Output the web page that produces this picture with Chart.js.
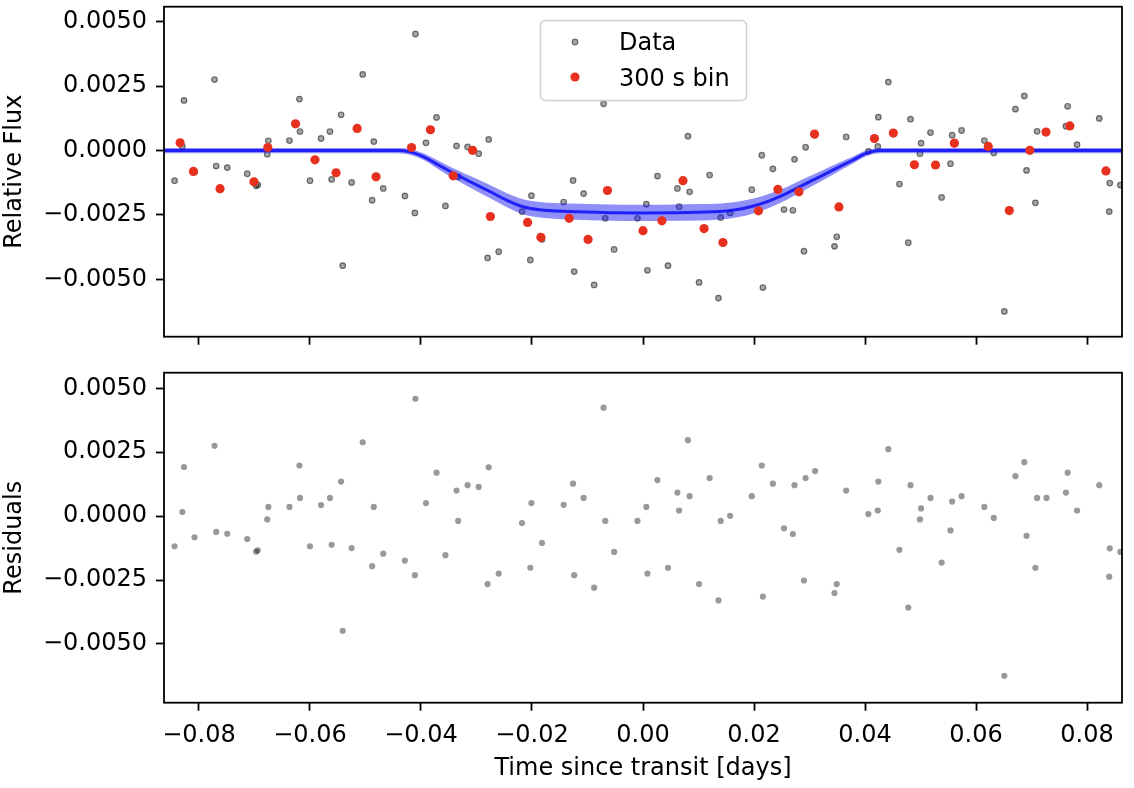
<!DOCTYPE html>
<html>
<head>
<meta charset="utf-8">
<script src="https://cdn.jsdelivr.net/npm/chart.js@4.4.1/dist/chart.umd.min.js"></script>
<style>
    html, body { margin: 0; padding: 0; background: #fff; }
    #wrap { position: relative; width: 1134px; height: 788px; overflow: hidden; }
    canvas { position: absolute; left: 0; }
</style>
</head>
<body>
<div id="wrap">
    <canvas id="fluxChart" width="1134" height="360" style="top:0px"></canvas>
    <canvas id="residChart" width="1134" height="428" style="top:360px"></canvas>
</div>
<script>
// Individual observations: time since transit [days], relative flux, residuals
const time = [
    -0.0844, -0.0830, -0.0827, -0.0808, -0.0772, -0.0769, -0.0750, -0.0749, -0.0713, -0.0697,
    -0.0694, -0.0677, -0.0675, -0.0637, -0.0619, -0.0618, -0.0600, -0.0580, -0.0564, -0.0561,
    -0.0544, -0.0541, -0.0525, -0.0505, -0.0488, -0.0485, -0.0468, -0.0429, -0.0411, -0.0410,
    -0.0391, -0.0372, -0.0356, -0.0336, -0.0333, -0.0316, -0.0296, -0.0278, -0.0280, -0.0260,
    -0.0218, -0.0203, -0.0201, -0.0182, -0.0143, -0.0126, -0.0124, -0.0107, -0.0088, -0.0071,
    -0.0068, -0.0052, -0.0010, 0.0006, 0.0008, 0.0026, 0.0045, 0.0062, 0.0065, 0.0081,
    0.0084, 0.0101, 0.0120, 0.0136, 0.0140, 0.0157, 0.0196, 0.0214, 0.0216, 0.0234,
    0.0254, 0.0270, 0.0273, 0.0290, 0.0293, 0.0310, 0.0345, 0.0349, 0.0366, 0.0406,
    0.0423, 0.0424, 0.0442, 0.0462, 0.0478, 0.0482, 0.0499, 0.0501, 0.0518, 0.0538,
    0.0554, 0.0557, 0.0574, 0.0615, 0.0632, 0.0651, 0.0671, 0.0687, 0.0691, 0.0707,
    0.0710, 0.0727, 0.0762, 0.0765, 0.0782, 0.0822, 0.0841, 0.0840, 0.0860
];
const flux = [
    -0.00117, 0.00016, 0.00195, -0.00083, 0.00276, -0.00060, -0.00745, -0.00066, -0.00090, -0.00137,
    -0.00133, -0.00014, 0.00038, 0.00039, 0.00200, 0.00074, -0.00117, 0.00047, 0.00074, -0.00112,
    0.00139, -0.00447, -0.00124, 0.00296, -0.00193, 0.00035, -0.00147, -0.00176, -0.00242, 0.00453,
    0.00030, 0.00129, -0.00215, 0.00018, -0.00102, 0.00014, -0.00012, 0.00043, -0.00417, -0.00393,
    -0.00237, -0.00425, -0.00175, -0.00345, -0.00200, -0.00116, -0.00470, -0.00167, -0.00522, 0.00182,
    -0.00263, -0.00384, -0.00263, -0.00208, -0.00465, -0.00099, -0.00447, -0.00147, -0.00218, 0.00056,
    -0.00160, -0.00512, -0.00095, -0.00573, -0.00260, -0.00242, -0.00152, -0.00018, -0.00532, -0.00071,
    -0.00229, -0.00232, -0.00034, -0.00391, 0.00013, 0.00060, -0.00372, -0.00335, 0.00053, -0.00003,
    0.00016, 0.00130, 0.00266, -0.00130, -0.00358, 0.00122, -0.00012, 0.00029, 0.00070, -0.00182,
    -0.00051, 0.00060, 0.00078, 0.00039, -0.00009, -0.00625, 0.00161, 0.00212, -0.00077, -0.00203,
    0.00075, 0.00072, 0.00095, 0.00172, 0.00023, 0.00125, -0.00126, -0.00237, -0.00134
];
const resid = [
    -0.00118, 0.00016, 0.00192, -0.00083, 0.00275, -0.00062, -0.00745, -0.00069, -0.00090, -0.00139,
    -0.00134, -0.00013, 0.00036, 0.00036, 0.00198, 0.00071, -0.00118, 0.00043, 0.00071, -0.00112,
    0.00135, -0.00449, -0.00125, 0.00289, -0.00196, 0.00036, -0.00147, -0.00174, -0.00231, 0.00459,
    0.00051, 0.00170, -0.00153, 0.00100, -0.00019, 0.00121, 0.00114, 0.00191, -0.00266, -0.00225,
    -0.00027, -0.00202, 0.00051, -0.00105, 0.00044, 0.00127, -0.00231, 0.00071, -0.00280, 0.00424,
    -0.00019, -0.00140, -0.00019, 0.00036, -0.00225, 0.00141, -0.00202, 0.00092, 0.00022, 0.00297,
    0.00078, -0.00266, 0.00149, -0.00330, -0.00019, 0.00001, 0.00078, 0.00198, -0.00315, 0.00127,
    -0.00048, -0.00070, 0.00121, -0.00252, 0.00149, 0.00176, -0.00301, -0.00266, 0.00100, 0.00008,
    0.00022, 0.00135, 0.00262, -0.00132, -0.00358, 0.00121, -0.00013, 0.00030, 0.00071, -0.00182,
    -0.00056, 0.00057, 0.00078, 0.00036, -0.00007, -0.00625, 0.00156, 0.00211, -0.00077, -0.00202,
    0.00071, 0.00071, 0.00092, 0.00170, 0.00022, 0.00121, -0.00126, -0.00237, -0.00140
];

// 300 s binned points
const binTime = [
    -0.0834, -0.0810, -0.0762, -0.0701, -0.0676, -0.0626, -0.0591, -0.0553, -0.0515, -0.0481,
    -0.0417, -0.0383, -0.0342, -0.0307, -0.0275, -0.0208, -0.0184, -0.0133, -0.0099, -0.0064,
    0.0000, 0.0034, 0.0072, 0.0110, 0.0144, 0.0208, 0.0243, 0.0281, 0.0309, 0.0353,
    0.0417, 0.0451, 0.0489, 0.0527, 0.0561, 0.0622, 0.0660, 0.0697, 0.0726, 0.0769, 0.0834
];
const binFlux = [
    0.00030, -0.00081, -0.00148, -0.00121, 0.00012, 0.00104, -0.00036, -0.00086, 0.00086, -0.00102,
    0.00012, 0.00081, -0.00098, 0.00001, -0.00256, -0.00279, -0.00337, -0.00263, -0.00345, -0.00155,
    -0.00311, -0.00273, -0.00117, -0.00303, -0.00357, -0.00234, -0.00151, -0.00160, 0.00064, -0.00219,
    0.00047, 0.00068, -0.00055, -0.00056, 0.00029, 0.00016, -0.00233, 0.00001, 0.00072, 0.00096, -0.00079
];

// Transit model (median curve) and its shaded band
const modelTime = [
    -0.0863, -0.0440, -0.0420, -0.0396, -0.0366, -0.0336, -0.0306, -0.0276, -0.0246, -0.0216,
    -0.0186, -0.0132, -0.0060, 0.0000, 0.0060, 0.0139, 0.0170, 0.0199, 0.0229, 0.0259,
    0.0289, 0.0319, 0.0349, 0.0379, 0.0403, 0.0427, 0.0863
];
const modelFlux = [
    0.00000, 0.00000, -0.00005, -0.00023, -0.00059, -0.00094, -0.00127, -0.00159, -0.00192, -0.00218,
    -0.00230, -0.00237, -0.00241, -0.00242, -0.00241, -0.00237, -0.00229, -0.00215, -0.00194, -0.00166,
    -0.00133, -0.00101, -0.00068, -0.00036, -0.00010, 0.00000, 0.00000
];
const bandHigh = [
    0.00010, 0.00010, 0.00006, -0.00010, -0.00042, -0.00074, -0.00104, -0.00134, -0.00165, -0.00189,
    -0.00200, -0.00206, -0.00209, -0.00210, -0.00209, -0.00206, -0.00199, -0.00186, -0.00167, -0.00141,
    -0.00110, -0.00081, -0.00051, -0.00023, 0.00001, 0.00010, 0.00010
];
const bandLow = [
    -0.00010, -0.00010, -0.00016, -0.00036, -0.00076, -0.00114, -0.00150, -0.00184, -0.00219, -0.00247,
    -0.00260, -0.00268, -0.00273, -0.00274, -0.00273, -0.00268, -0.00259, -0.00244, -0.00221, -0.00191,
    -0.00156, -0.00121, -0.00085, -0.00049, -0.00021, -0.00010, -0.00010
];

const xMin = -0.0863, xMax = 0.0863;
const fluxMin = -0.00723, fluxMax = 0.00559;
const residMin = -0.00730, residMax = 0.00561;

const FONT = "'DejaVu Sans', 'Liberation Sans', sans-serif";
Chart.defaults.font.family = FONT;
Chart.defaults.font.size = 24;
Chart.defaults.color = "#000";

function pts(xs, ys) {
    return xs.map((x, i) => ({ x: x, y: ys[i] }));
}

function fmt(v, digits) {
    if (Math.abs(v) < 1e-12) v = 0;
    return v.toFixed(digits).replace("-", "\u2212");
}

const tickGrid = {
    display: true,
    drawOnChartArea: false,
    drawTicks: true,
    tickLength: 8,
    tickWidth: 1.8,
    tickColor: "#000"
};

function yAxis(min, max, title) {
    return {
        type: "linear",
        min: min,
        max: max,
        ticks: {
            stepSize: 0.0025,
            includeBounds: false,
            padding: 9,
            callback: v => fmt(v, 4)
        },
        grid: tickGrid,
        border: { display: false },
        title: { display: true, text: title, padding: { top: 0, bottom: 0 } },
        afterFit: s => { s.width = 164; s.paddingTop = 0; s.paddingBottom = 0; }
    };
}

function xAxis(showLabels, height) {
    return {
        type: "linear",
        min: xMin,
        max: xMax,
        ticks: {
            display: showLabels,
            stepSize: 0.02,
            includeBounds: false,
            autoSkip: false,
            maxRotation: 0,
            padding: 11,
            callback: v => fmt(v, 2)
        },
        grid: tickGrid,
        border: { display: false },
        title: {
            display: showLabels,
            text: "Time since transit [days]",
            padding: { top: 0, bottom: 5 }
        },
        afterFit: s => { s.height = height; s.paddingLeft = 0; s.paddingRight = 0; }
    };
}

// black box round the plot area
const framePlugin = {
    id: "frame",
    afterDatasetsDraw(chart) {
        const { ctx, chartArea: a } = chart;
        ctx.save();
        ctx.strokeStyle = "#000";
        ctx.lineWidth = 1.8;
        ctx.strokeRect(a.left, a.top, a.right - a.left, a.bottom - a.top);
        ctx.restore();
    }
};

// legend box inside the top panel
const insetLegend = {
    id: "insetLegend",
    afterDraw(chart) {
        const ctx = chart.ctx;
        ctx.save();
        ctx.beginPath();
        ctx.roundRect(540.5, 20.5, 206, 80, 5);
        ctx.fillStyle = "rgba(255,255,255,0.8)";
        ctx.fill();
        ctx.strokeStyle = "#d0d0d0";
        ctx.lineWidth = 1.5;
        ctx.stroke();

        ctx.beginPath();
        ctx.arc(575, 42, 2.8, 0, Math.PI * 2);
        ctx.fillStyle = "rgba(0,0,0,0.35)";
        ctx.fill();
        ctx.strokeStyle = "rgba(0,0,0,0.5)";
        ctx.lineWidth = 1.2;
        ctx.stroke();

        ctx.beginPath();
        ctx.arc(575, 77, 4.6, 0, Math.PI * 2);
        ctx.fillStyle = "#e8301f";
        ctx.fill();

        ctx.fillStyle = "#000";
        ctx.font = "24px " + FONT;
        ctx.textBaseline = "alphabetic";
        ctx.textAlign = "left";
        ctx.fillText("Data", 619, 50);
        ctx.fillText("300 s bin", 619, 86);
        ctx.restore();
    }
};

new Chart(document.getElementById("fluxChart"), {
    type: "scatter",
    data: {
        datasets: [
            {
                label: "300 s bin",
                data: pts(binTime, binFlux),
                backgroundColor: "#e8301f",
                borderWidth: 0,
                pointRadius: 4.6,
                clip: 0,
                order: 0
            },
            {
                type: "line",
                label: "model",
                data: pts(modelTime, modelFlux),
                borderColor: "rgba(20,20,245,0.9)",
                borderWidth: 3,
                pointRadius: 0,
                fill: false,
                cubicInterpolationMode: "monotone",
                order: 1
            },
            {
                type: "line",
                label: "band low",
                data: pts(modelTime, bandLow),
                borderWidth: 0,
                borderColor: "rgba(0,0,0,0)",
                pointRadius: 0,
                fill: false,
                cubicInterpolationMode: "monotone",
                order: 3
            },
            {
                type: "line",
                label: "band high",
                data: pts(modelTime, bandHigh),
                borderWidth: 0,
                borderColor: "rgba(0,0,0,0)",
                backgroundColor: "rgba(20,20,240,0.48)",
                pointRadius: 0,
                fill: "-1",
                cubicInterpolationMode: "monotone",
                order: 2
            },
            {
                label: "Data",
                data: pts(time, flux),
                backgroundColor: "rgba(0,0,0,0.35)",
                borderColor: "rgba(0,0,0,0.5)",
                borderWidth: 1.2,
                pointRadius: 2.8,
                clip: 0,
                order: 4
            }
        ]
    },
    options: {
        responsive: false,
        animation: false,
        layout: { padding: { top: 6.7, right: 12, left: 0, bottom: 0 } },
        plugins: { legend: { display: false }, tooltip: { enabled: false } },
        scales: {
            x: xAxis(false, 23.3),
            y: yAxis(fluxMin, fluxMax, "Relative Flux")
        }
    },
    plugins: [framePlugin, insetLegend]
});

new Chart(document.getElementById("residChart"), {
    type: "scatter",
    data: {
        datasets: [
            {
                label: "Residuals",
                data: pts(time, resid),
                backgroundColor: "rgba(0,0,0,0.4)",
                borderWidth: 0,
                pointRadius: 3.1,
                clip: 0
            }
        ]
    },
    options: {
        responsive: false,
        animation: false,
        layout: { padding: { top: 12.7, right: 12, left: 0, bottom: 0 } },
        plugins: { legend: { display: false }, tooltip: { enabled: false } },
        scales: {
            x: xAxis(true, 85.3),
            y: yAxis(residMin, residMax, "Residuals")
        }
    },
    plugins: [framePlugin]
});
</script>
</body>
</html>
